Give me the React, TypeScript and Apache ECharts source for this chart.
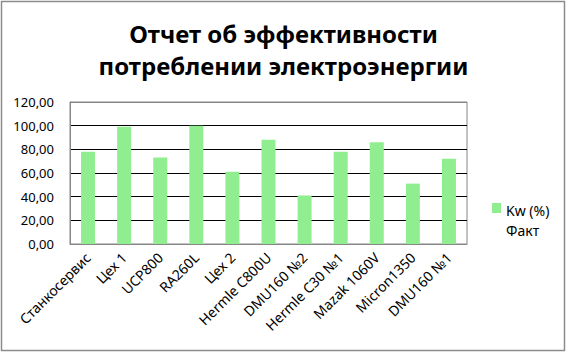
import React, { useEffect, useRef } from "react";
import * as echarts from "echarts";

const categories = [
  "Станкосервис",
  "Цех 1",
  "UCP800",
  "RA260L",
  "Цех 2",
  "Hermle C800U",
  "DMU160 №2",
  "Hermle C30 №1",
  "Mazak 1060V",
  "Micron1350",
  "DMU160 №1",
];
const values = [78, 99, 73, 100, 61, 88, 41, 78, 86, 51, 72];
const seriesName = "Kw (%) Факт";
const legendLines = "Kw (%)\nФакт";
const titleText = "Отчет об эффективности\nпотреблении электроэнергии";

export default function App() {
  const ref = useRef<HTMLDivElement>(null);
  useEffect(() => {
    document.body.style.margin = "0";
    const chart = echarts.init(ref.current!, null, { renderer: "svg" });
    const font = "'Noto Sans', sans-serif";
    chart.setOption({
      animation: false,
      backgroundColor: "#fff",
      title: {
        text: titleText,
        left: "center",
        top: 12,
        textStyle: {
          fontFamily: font,
          fontSize: 24,
          fontWeight: "bold",
          color: "#000",
          lineHeight: 32,
        },
      },
      graphic: [
        {
          type: "rect",
          shape: { x: 1.5, y: 1.5, width: 563, height: 349 },
          style: { fill: "none", stroke: "#8c8c8c", lineWidth: 1.5 },
          silent: true,
        },
      ],
      legend: {
        left: 492,
        top: 200,
        padding: 0,
        orient: "vertical",
        itemWidth: 9,
        itemHeight: 34,
        icon: "path://M0,0h9v10h-9z M0,34",
        formatter: () => legendLines,
        textStyle: {
          fontFamily: font,
          fontSize: 14,
          color: "#000",
          lineHeight: 20,
        },
        data: [seriesName],
      },
      grid: {
        left: 70,
        right: 100,
        top: 102,
        bottom: 109,
        show: true,
        borderColor: "#868686",
        borderWidth: 1,
      },
      xAxis: {
        type: "category",
        data: categories,
        axisLine: { lineStyle: { color: "#868686" } },
        axisTick: { inside: true, length: 5, lineStyle: { color: "#868686" } },
        axisLabel: {
          rotate: 45,
          interval: 0,
          margin: 11,
          fontFamily: font,
          fontSize: 14,
          color: "#000",
        },
      },
      yAxis: {
        type: "value",
        min: 0,
        max: 120,
        interval: 20,
        axisLine: { show: true, lineStyle: { color: "#868686" } },
        axisTick: { show: false },
        axisLabel: {
          margin: 16,
          fontFamily: font,
          fontSize: 13,
          color: "#000",
          formatter: (v: number) => v.toFixed(2).replace(".", ","),
        },
        splitLine: {
          lineStyle: {
            color: ["#868686", "#000", "#000", "#000", "#000", "#000", "#868686"],
            width: 1,
          },
        },
      },
      series: [
        {
          name: seriesName,
          type: "bar",
          data: values,
          barWidth: 14,
          itemStyle: { color: "#90EE90" },
        },
      ],
    });
    return () => chart.dispose();
  }, []);
  return <div ref={ref} style={{ width: 567, height: 353 }} />;
}
